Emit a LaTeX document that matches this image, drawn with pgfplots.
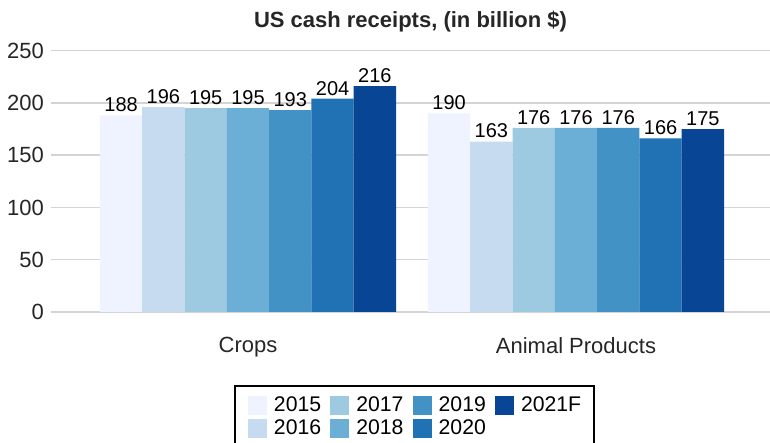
\documentclass[border=0pt]{standalone}
\usepackage{pgfplots}
\pgfplotsset{compat=1.18}
\usepackage{fontspec}
\setmainfont{Liberation Sans}
\definecolor{c15}{HTML}{EFF3FF}
\definecolor{c16}{HTML}{C6DBEF}
\definecolor{c17}{HTML}{9ECAE1}
\definecolor{c18}{HTML}{6BAED6}
\definecolor{c19}{HTML}{4292C6}
\definecolor{c20}{HTML}{2171B5}
\definecolor{c21}{HTML}{084594}
\definecolor{gridgray}{HTML}{D4D4D4}
\begin{document}
\begin{tikzpicture}
\begin{axis}[
    name=a,
    scale only axis,
    width=359.5pt, height=130.7pt,
    ybar=0pt, bar width=21.15pt,
    xmin=-0.6006, xmax=1.5915,
    ymin=0, ymax=250,
    ytick={0,50,...,250},
    xtick={0,1},
    xticklabels={Crops, Animal Products},
    major tick length=0pt,
    axis line style={draw=none},
    ymajorgrids, major grid style={gridgray, line width=0.75pt},
    /pgf/number format/assume math mode=true,
    tick label style={font=\fontsize{11}{13}\selectfont, text=black!85},
    xticklabel style={yshift=-9pt},
    title={US cash receipts, (in billion \$)},
    title style={font=\bfseries\fontsize{11}{13}\selectfont, text=black!85,
        at={(0.5,1)}, anchor=base, yshift=5.3pt},
    nodes near coords,
    every node near coord/.append style={font=\fontsize{10}{12}\selectfont, text=black, inner sep=1.5pt},
    legend image code/.code={\fill[#1] (0pt,-4.75pt) rectangle (9.5pt,4.75pt);},
    legend columns=2,
    transpose legend,
    legend style={at={(axis description cs:0.2545,-0.2793)}, anchor=north west,
        draw=black, line width=1pt, font=\fontsize{10.6}{12}\selectfont,
        inner xsep=6.5pt, inner ysep=4.5pt, column sep=3.5pt, row sep=1.5pt,
        /tikz/every even column/.append style={column sep=4.6pt},
        nodes={inner sep=0pt, text height=8pt, text depth=2pt}},
]
\addplot[fill=c15, draw=none] coordinates {(0,188) (1,190)};
\addplot[fill=c16, draw=none] coordinates {(0,196) (1,163)};
\addplot[fill=c17, draw=none] coordinates {(0,195) (1,176)};
\addplot[fill=c18, draw=none] coordinates {(0,195) (1,176)};
\addplot[fill=c19, draw=none] coordinates {(0,193) (1,176)};
\addplot[fill=c20, draw=none] coordinates {(0,204) (1,166)};
\addplot[fill=c21, draw=none] coordinates {(0,216) (1,175)};
\legend{2015,2016,2017,2018,2019,2020,2021F}
\end{axis}
\pgfresetboundingbox
\path[use as bounding box] ([xshift=-25.5pt,yshift=-65.5pt]a.south west) rectangle ([yshift=25.3pt]a.north east);
\end{tikzpicture}
\end{document}
